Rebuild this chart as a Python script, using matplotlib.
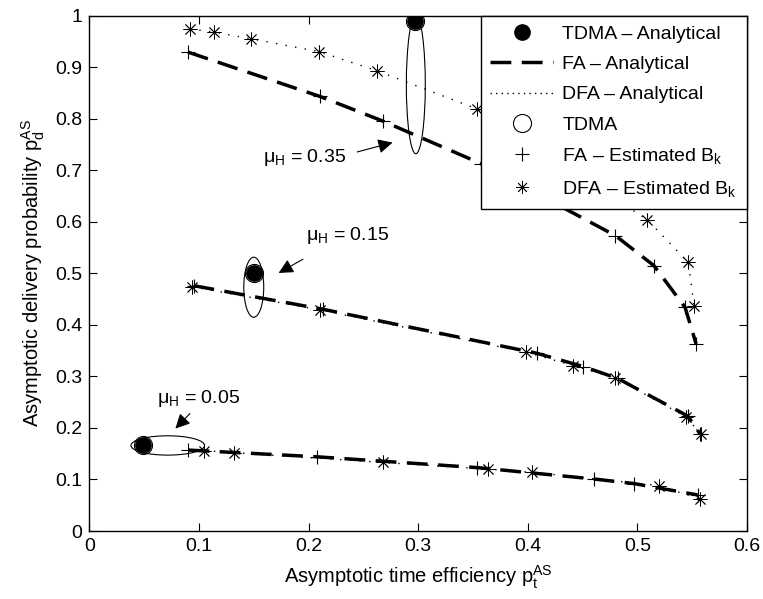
import matplotlib
matplotlib.use("Agg")
import matplotlib.pyplot as plt
from matplotlib.patches import Ellipse

plt.rcParams['font.family'] = ['Liberation Sans', 'DejaVu Sans']
plt.rcParams['mathtext.fontset'] = 'custom'
plt.rcParams['mathtext.rm'] = 'Liberation Sans'
plt.rcParams['mathtext.it'] = 'Liberation Sans:italic'

# ---- data ----
# mu_H = 0.35
fa35_x = [0.090, 0.2105, 0.268, 0.357, 0.480, 0.515, 0.5435, 0.5536]
fa35_y = [0.929, 0.843, 0.795, 0.713, 0.573, 0.515, 0.434, 0.363]
dfa35_x = [0.0914, 0.1134, 0.1475, 0.2096, 0.2622, 0.3535, 0.509, 0.5465, 0.5517]
dfa35_y = [0.974, 0.968, 0.955, 0.930, 0.893, 0.819, 0.604, 0.521, 0.437]
# mu_H = 0.15
fa15_x = [0.095, 0.2135, 0.408, 0.4507, 0.482, 0.546, 0.557]
fa15_y = [0.476, 0.430, 0.345, 0.319, 0.296, 0.223, 0.189]
dfa15_x = [0.0934, 0.2105, 0.398, 0.4416, 0.480, 0.544, 0.558]
dfa15_y = [0.474, 0.429, 0.347, 0.321, 0.297, 0.222, 0.188]
# mu_H = 0.05
fa05_x = [0.0903, 0.2075, 0.354, 0.460, 0.497, 0.555]
fa05_y = [0.157, 0.144, 0.123, 0.101, 0.092, 0.070]
dfa05_x = [0.1047, 0.132, 0.268, 0.364, 0.4036, 0.520, 0.557]
dfa05_y = [0.156, 0.152, 0.133, 0.120, 0.114, 0.088, 0.062]
# TDMA points
tdma_x = [0.297, 0.150, 0.0487]
tdma_y = [0.990, 0.500, 0.167]
# ellipses around TDMA points: (cx, cy, w, h)
ellipses = [(0.2978, 0.866, 0.0173, 0.268),
            (0.1499, 0.473, 0.0182, 0.1165),
            (0.0714, 0.166, 0.0672, 0.0375)]
# annotations: label, text pos, arrow tail, arrow head
annots = [('μ$_\\mathrm{H}$ = 0.35', (0.1585, 0.724), (0.2418, 0.734), (0.279, 0.755)),
          ('μ$_\\mathrm{H}$ = 0.15', (0.198, 0.573), (0.197, 0.530), (0.1704, 0.498)),
          ('μ$_\\mathrm{H}$ = 0.05', (0.0615, 0.258), (0.0934, 0.2317), (0.0766, 0.1948))]

fig = plt.figure(figsize=(7.63, 5.99), dpi=100)
ax = fig.add_axes([0.1173, 0.1135, 0.979 - 0.1173, 0.974 - 0.1135])

dash = (0, (6, 3))
dots = (0, (1, 6))
for fx, fy, dx, dy in [(fa35_x, fa35_y, dfa35_x, dfa35_y),
                       (fa15_x, fa15_y, dfa15_x, dfa15_y),
                       (fa05_x, fa05_y, dfa05_x, dfa05_y)]:
    ax.plot(fx, fy, color='k', lw=2.5, linestyle=dash)
    ax.plot(dx, dy, color='k', lw=1.0, linestyle=dots)
    ax.plot(fx, fy, 'k+', ms=10, mew=0.8, linestyle='none')
    ax.plot(dx, dy, color='k', marker=(8, 2, 0), ms=10, mew=0.6, linestyle='none')

ax.plot(tdma_x, tdma_y, 'ko', ms=11, linestyle='none')
ax.plot(tdma_x, tdma_y, 'o', mfc='none', mec='k', ms=13, mew=0.8, linestyle='none')

for cx, cy, w, h in ellipses:
    ax.add_patch(Ellipse((cx, cy), w, h, fill=False, ec='k', lw=0.8))

for lab, tpos, tail, head in annots:
    ax.text(tpos[0], tpos[1], lab, fontsize=14, ha='left', va='center')
    ax.annotate('', xy=head, xytext=tail,
                arrowprops=dict(arrowstyle='-|>', mutation_scale=22, lw=0.8, color='k'))

# legend handles
h1, = ax.plot([], [], 'ko', ms=11, linestyle='none', label='TDMA – Analytical')
h2, = ax.plot([], [], color='k', lw=2.5, linestyle=dash, label='FA – Analytical')
h3, = ax.plot([], [], color='k', lw=1.0, linestyle=(0, (1, 3)), label='DFA – Analytical')
h4, = ax.plot([], [], 'o', mfc='none', mec='k', ms=13, mew=0.8, linestyle='none', label='TDMA')
h5, = ax.plot([], [], 'k+', ms=10, mew=0.8, linestyle='none', label=r'FA – Estimated B$_\mathrm{k}$')
h6, = ax.plot([], [], color='k', marker=(8, 2, 0), ms=9, mew=0.6, linestyle='none',
              label=r'DFA – Estimated B$_\mathrm{k}$')
leg = ax.legend(handles=[h1, h2, h3, h4, h5, h6], loc='upper right', borderaxespad=0,
                fancybox=False, edgecolor='k', framealpha=1, fontsize=14,
                handlelength=3.2, handletextpad=0.5, labelspacing=0.65, borderpad=0.5)
leg.get_frame().set_linewidth(1.0)

ax.set_xlim(0, 0.6)
ax.set_ylim(0, 1)
ax.set_xticks([0, 0.1, 0.2, 0.3, 0.4, 0.5, 0.6])
ax.set_xticklabels(['0', '0.1', '0.2', '0.3', '0.4', '0.5', '0.6'])
ax.set_yticks([i / 10 for i in range(11)])
ax.set_yticklabels(['0', '0.1', '0.2', '0.3', '0.4', '0.5', '0.6', '0.7', '0.8', '0.9', '1'])
ax.tick_params(direction='in', top=True, right=True, labelsize=14, length=6, width=0.8, pad=5)
for s in ax.spines.values():
    s.set_linewidth(1.0)
ax.set_xlabel(r'Asymptotic time efficiency p$_\mathrm{t}^\mathrm{AS}$', fontsize=14.5, labelpad=6)
ax.set_ylabel(r'Asymptotic delivery probability p$_\mathrm{d}^\mathrm{AS}$', fontsize=14.5, labelpad=6)

fig.savefig('out.png', dpi=100)
